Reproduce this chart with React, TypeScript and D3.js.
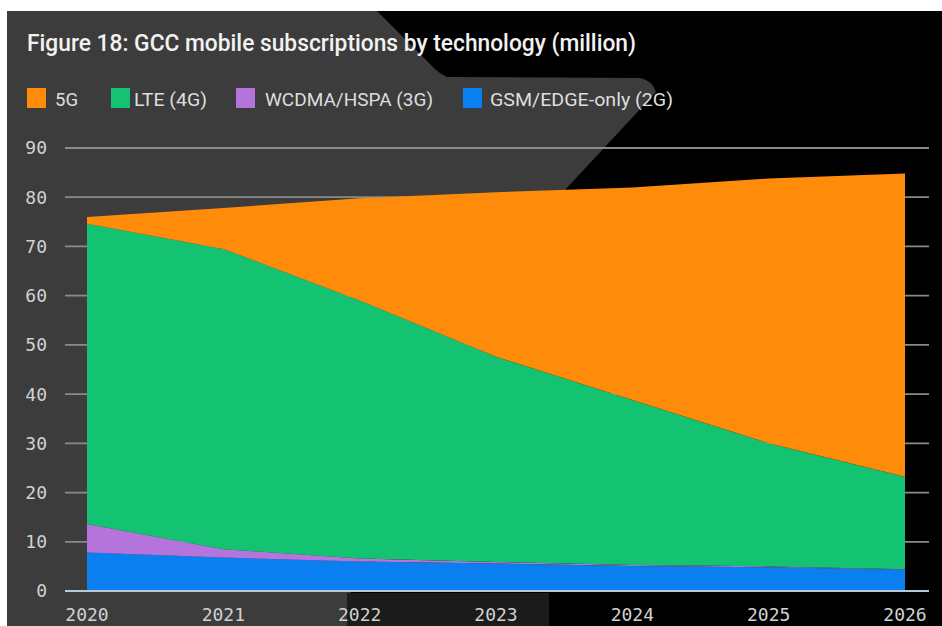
import React, { useEffect } from "react";
import * as d3 from "d3";

const years = [2020, 2021, 2022, 2023, 2024, 2025, 2026];
const gsm2G = [7.8, 6.8, 6.0, 5.6, 5.1, 4.8, 4.3];
const wcdma3G = [5.8, 1.7, 0.6, 0.3, 0.2, 0.2, 0.1];
const lte4G = [61.0, 61.0, 52.4, 41.7, 33.5, 25.0, 18.8];
const nr5G = [1.4, 8.3, 20.8, 33.4, 43.2, 53.8, 61.6];
const yTicks = [0, 10, 20, 30, 40, 50, 60, 70, 80, 90];
const seriesKeys = ["gsm", "wcdma", "lte", "nr"];
const seriesColors = ["#0a80f0", "#b474dc", "#13c371", "#ff8b0b"];
const legendLabels = ["5G", "LTE (4G)", "WCDMA/HSPA (3G)", "GSM/EDGE-only (2G)"];
const legendColors = ["#ff8b0b", "#13c371", "#b474dc", "#0a80f0"];
const title = "Figure 18: GCC mobile subscriptions by technology (million)";

const W = 942;
const H = 626;

export default function App() {
  useEffect(() => {
    document.body.style.margin = "0";
  }, []);

  const x = d3.scaleLinear().domain([2020, 2026]).range([87, 905]);
  const y = d3.scaleLinear().domain([0, 90]).range([591, 148]);

  const table = years.map((yr, i) => ({
    year: yr,
    gsm: gsm2G[i],
    wcdma: wcdma3G[i],
    lte: lte4G[i],
    nr: nr5G[i],
  }));
  const stacked = d3.stack<any>().keys(seriesKeys)(table);
  const area = d3
    .area<any>()
    .x((d) => x(d.data.year))
    .y0((d) => y(d[0]))
    .y1((d) => y(d[1]))
    .curve(d3.curveLinear);

  const legendX = [27, 111, 236, 463];
  const legendTextX = [55, 134, 265, 490];
  const legendTextW = [23, 73, 168, 183];

  const grayPath =
    "M7,11 L377,11 L432,66 Q437,72 447,77 L640,78 Q652,80 656,92 L565,190 L347,600 L347,626 L7,626 Z";

  return (
    <svg width={W} height={H} style={{ display: "block" }}>
      <rect x={0} y={0} width={W} height={H} fill="#ffffff" />
      <rect x={7} y={11} width={W - 7} height={H - 11} fill="#000000" />
      <path d={grayPath} fill="#3c3c3c" />
      <rect x={347} y={593} width={202} height={33} fill="#1b1b1b" />

      <text
        x={27}
        y={51}
        fill="#f2f2f2"
        fontFamily="Roboto, sans-serif"
        fontWeight={500}
        fontSize={24}
        textLength={609}
        lengthAdjust="spacingAndGlyphs"
      >
        {title}
      </text>

      {legendLabels.map((lab, i) => (
        <g key={lab}>
          <rect x={legendX[i]} y={88} width={19} height={20} fill={legendColors[i]} />
          <text
            x={legendTextX[i]}
            y={106}
            fill="#dedede"
            fontFamily="Roboto, sans-serif"
            fontSize={19}
            textLength={legendTextW[i]}
            lengthAdjust="spacingAndGlyphs"
          >
            {lab}
          </text>
        </g>
      ))}

      {yTicks.map((t) => (
        <g key={t}>
          {t > 0 && (
            <line x1={65} x2={929} y1={y(t)} y2={y(t)} stroke="#8a8a8a" strokeWidth={1.8} />
          )}
          <text
            x={47}
            y={y(t)}
            dy="0.36em"
            textAnchor="end"
            fill="#d2d2d2"
            fontFamily="'DejaVu Sans Mono', monospace"
            fontSize={18}
          >
            {t}
          </text>
        </g>
      ))}

      {stacked.map((s, i) => (
        <path key={s.key} d={area(s) || ""} fill={seriesColors[i]} />
      ))}

      <line x1={65} x2={929} y1={y(0)} y2={y(0)} stroke="#b8cad8" strokeWidth={2.2} />

      {years.map((yr) => (
        <text
          key={yr}
          x={x(yr)}
          y={621}
          textAnchor="middle"
          fill="#d2d2d2"
          fontFamily="'DejaVu Sans Mono', monospace"
          fontSize={18}
        >
          {yr}
        </text>
      ))}
    </svg>
  );
}
